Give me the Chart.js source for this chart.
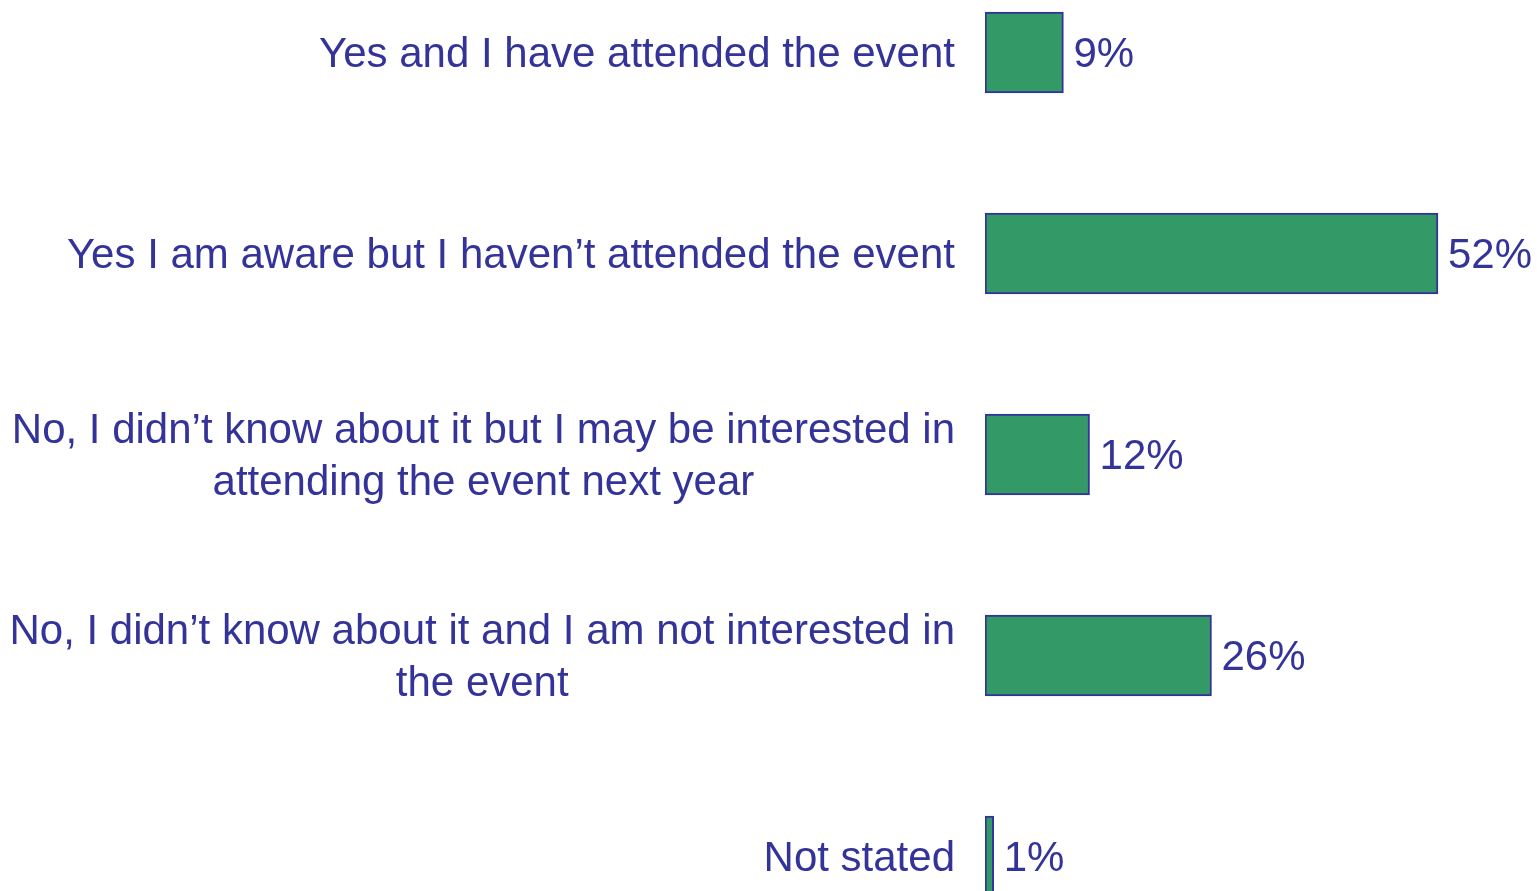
<!DOCTYPE html>
<html>
<head>
<meta charset="utf-8">
<script src="https://cdn.jsdelivr.net/npm/chart.js@4"></script>
<style>
  html, body { margin: 0; padding: 0; background: #fff; overflow: hidden; }
  #wrap { position: absolute; left: 0; top: -48px; width: 1537px; height: 1005px; }
</style>
</head>
<body>
<div id="wrap"><canvas id="awarenessChart"></canvas></div>
<script>
// Data
const answers = [
  ["Yes and I have attended the event"],
  ["Yes I am aware but I haven\u2019t attended the event"],
  ["No, I didn\u2019t know about it but I may be interested in", "attending the event next year"],
  ["No, I didn\u2019t know about it and I am not interested in", "the event"],
  ["Not stated"]
];
const shares = [9, 52, 12, 26, 1];

const textColor = "#333399";
const font = "42px 'Liberation Sans', Arial, Helvetica, sans-serif";

// Draw category labels (right aligned block, lines centred) and value labels
const labelPlugin = {
  id: "labelPlugin",
  afterDatasetsDraw(chart) {
    const ctx = chart.ctx;
    const yScale = chart.scales.y;
    const rightEdge = chart.chartArea.left - 30;
    const lineHeight = 52;
    ctx.save();
    ctx.font = font;
    ctx.fillStyle = textColor;
    ctx.textBaseline = "middle";

    answers.forEach((lines, i) => {
      const y = yScale.getPixelForValue(i) + 3;
      const blockW = Math.max(...lines.map((l) => ctx.measureText(l).width));
      const cx = rightEdge - blockW / 2;
      const top = y - ((lines.length - 1) * lineHeight) / 2;
      ctx.textAlign = "center";
      lines.forEach((l, j) => ctx.fillText(l, cx, top + j * lineHeight));
    });

    const meta = chart.getDatasetMeta(0);
    ctx.textAlign = "left";
    meta.data.forEach((bar, i) => {
      ctx.fillText(shares[i] + "%", bar.x + 10, bar.y + 3);
    });
    ctx.restore();
  },
};

new Chart(document.getElementById("awarenessChart").getContext("2d"), {
  type: "bar",
  data: {
    labels: answers.map((a) => a.join(" ")),
    datasets: [
      {
        data: shares,
        backgroundColor: "#339966",
        borderColor: "#333399",
        borderWidth: 2,
        borderSkipped: false,
        barThickness: 81,
      },
    ],
  },
  options: {
    indexAxis: "y",
    responsive: true,
    maintainAspectRatio: false,
    animation: false,
    layout: { padding: { left: 985, right: 0, top: 0, bottom: 0 } },
    plugins: { legend: { display: false }, tooltip: { enabled: false } },
    scales: {
      x: { display: false, min: 0, max: 63.37 },
      y: { display: false },
    },
  },
  plugins: [labelPlugin],
});
</script>
</body>
</html>
